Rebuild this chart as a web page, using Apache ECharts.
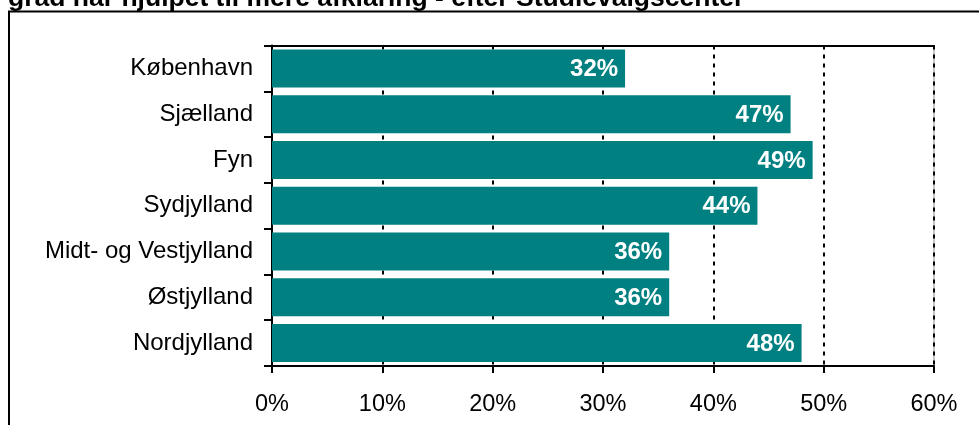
<!DOCTYPE html>
<html>
<head>
<meta charset="utf-8">
<script src="https://cdn.jsdelivr.net/npm/echarts@6/dist/echarts.min.js"></script>
<style>
  html, body { margin: 0; padding: 0; background: #fff; }
  #chart { width: 979px; height: 425px; }
</style>
</head>
<body>
<div id="chart"></div>
<script>
// regioner og andel (%)
var regions = ['København', 'Sjælland', 'Fyn', 'Sydjylland', 'Midt- og Vestjylland', 'Østjylland', 'Nordjylland']
var shares = [32, 47, 49, 44, 36, 36, 48]
var titleText = 'grad har hjulpet til mere afklaring - efter Studievalgscenter'

var font = 'Arial, "Liberation Sans", sans-serif'
var chart = echarts.init(document.getElementById('chart'))

chart.setOption({
  animation: false,
  graphic: [
    {
      type: 'text',
      left: 8,
      top: -15,
      style: {text: titleText, font: 'bold 26.5px ' + font, fill: '#000'}
    },
    {
      type: 'rect',
      shape: {x: 9, y: 11.5, width: 1200, height: 600},
      style: {fill: 'none', stroke: '#000', lineWidth: 2}
    }
  ],
  grid: {
    left: 272,
    right: 45,
    top: 45.5,
    bottom: 59,
    show: true,
    borderColor: '#888',
    borderWidth: 1
  },
  xAxis: [
    {
      type: 'value',
      min: 0,
      max: 60,
      interval: 10,
      axisLine: {show: true, lineStyle: {color: '#000', width: 2}},
      axisTick: {show: true, length: 7, lineStyle: {color: '#000', width: 2}},
      axisLabel: {
        formatter: '{value}%',
        color: '#000',
        fontFamily: font,
        fontSize: 23.5,
        margin: 27
      },
      splitLine: {show: true, lineStyle: {color: '#000', width: 2, type: [4, 5]}}
    },
    {
      type: 'value',
      position: 'top',
      min: 0,
      max: 60,
      interval: 10,
      axisLine: {show: true, lineStyle: {color: '#000', width: 2}},
      axisTick: {show: false},
      axisLabel: {show: false},
      splitLine: {show: false}
    }
  ],
  yAxis: {
    type: 'category',
    data: regions,
    inverse: true,
    axisLine: {show: true, lineStyle: {color: '#000', width: 2}},
    axisTick: {show: true, length: 8, lineStyle: {color: '#000', width: 2}},
    axisLabel: {color: '#000', fontFamily: font, fontSize: 24, margin: 19}
  },
  series: [
    {
      type: 'bar',
      data: shares,
      barCategoryGap: '17%',
      itemStyle: {color: '#008080'},
      label: {
        show: true,
        position: 'insideRight',
        offset: [-2, 1],
        formatter: '{c}%',
        color: '#fff',
        fontFamily: font,
        fontWeight: 'bold',
        fontSize: 24
      }
    }
  ]
})
</script>
</body>
</html>
